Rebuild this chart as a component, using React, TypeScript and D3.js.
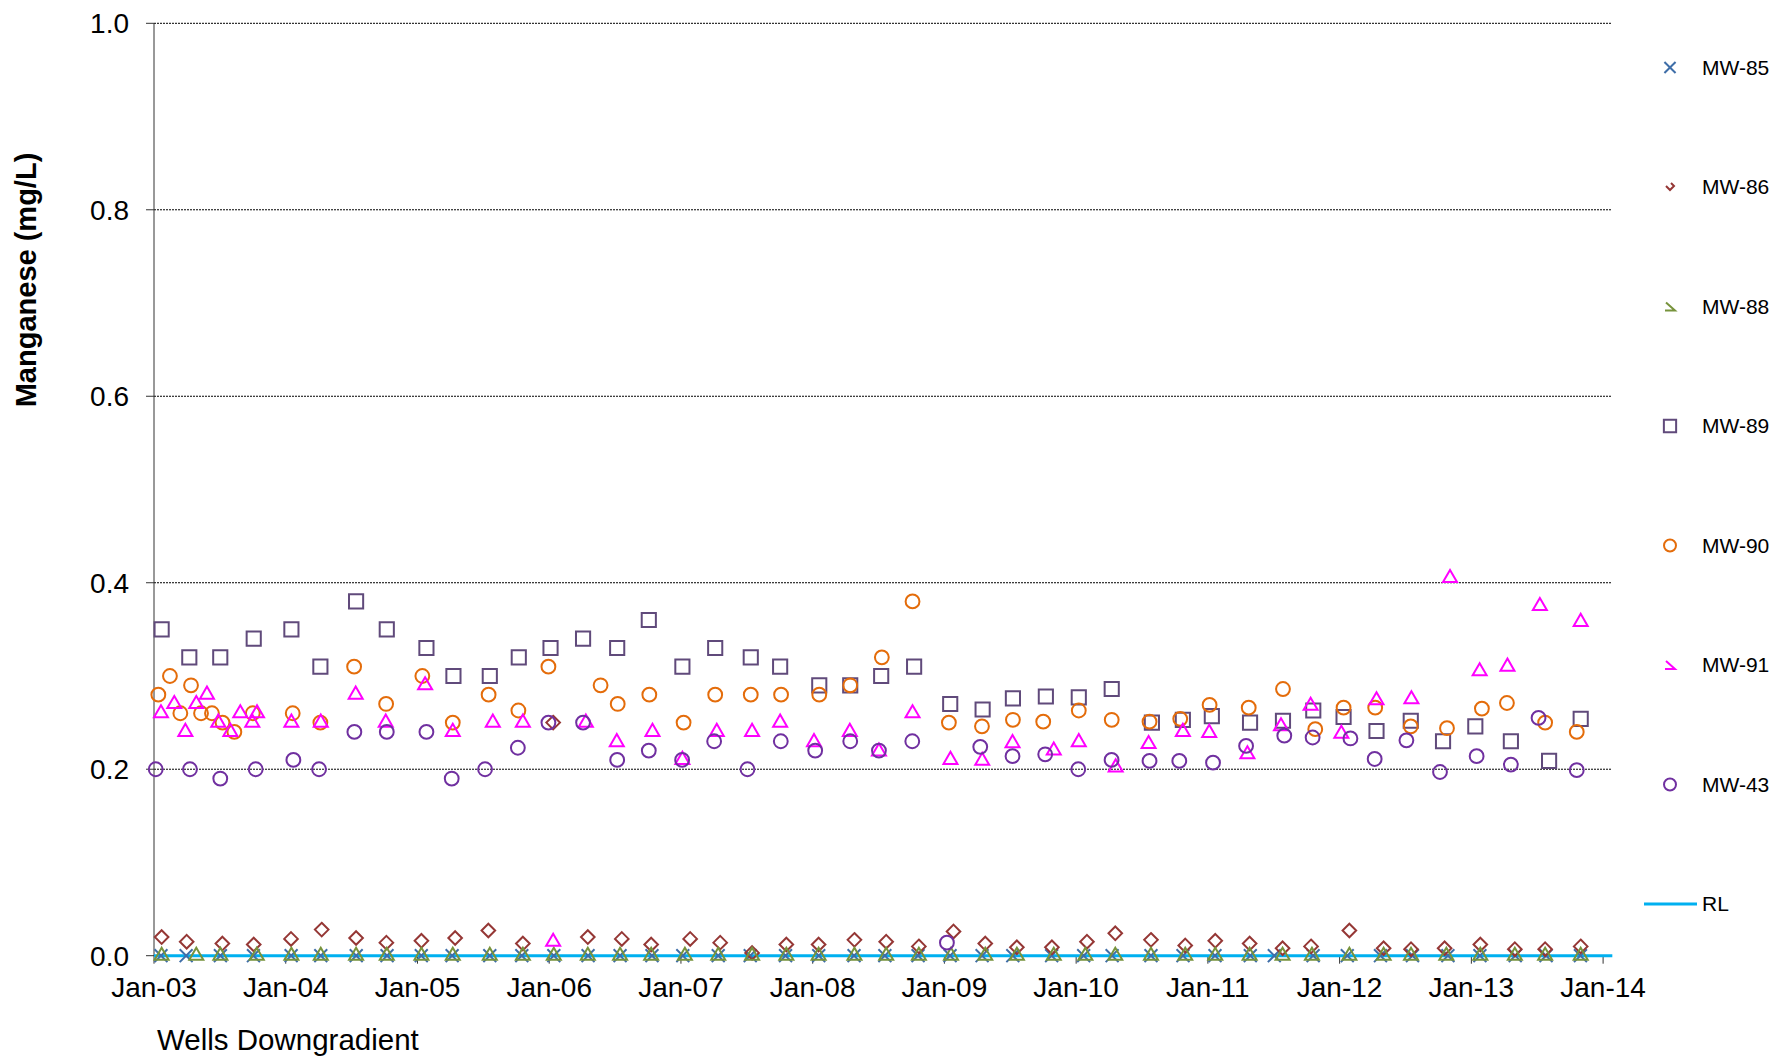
import React from 'react'
import * as d3 from 'd3'

// sample dates are decimal years
const mw85Dates = [2003.053, 2003.244, 2003.504, 2003.755, 2004.041, 2004.266, 2004.535, 2004.769, 2005.029, 2005.263, 2005.549, 2005.792, 2006.035, 2006.295, 2006.538, 2006.78, 2007.014, 2007.283, 2007.526, 2007.794, 2008.046, 2008.314, 2008.548, 2008.8, 2009.043, 2009.286, 2009.519, 2009.814, 2010.057, 2010.273, 2010.568, 2010.811, 2011.054, 2011.322, 2011.504, 2011.799, 2012.058, 2012.31, 2012.553, 2012.822, 2013.065, 2013.333, 2013.567, 2013.828]
const mw85Values = [0, 0, 0, 0, 0, 0, 0, 0, 0, 0, 0, 0, 0, 0, 0, 0, 0, 0, 0, 0, 0, 0, 0, 0, 0, 0, 0, 0, 0, 0, 0, 0, 0, 0, 0, 0, 0, 0, 0, 0, 0, 0, 0, 0]

const mw86Dates = [2003.058, 2003.248, 2003.519, 2003.757, 2004.04, 2004.273, 2004.534, 2004.764, 2005.03, 2005.286, 2005.538, 2005.8, 2006.03, 2006.293, 2006.551, 2006.774, 2007.07, 2007.298, 2007.54, 2007.8, 2008.045, 2008.317, 2008.558, 2008.806, 2009.069, 2009.31, 2009.55, 2009.816, 2010.082, 2010.297, 2010.568, 2010.828, 2011.056, 2011.317, 2011.567, 2011.783, 2012.074, 2012.334, 2012.542, 2012.797, 2013.068, 2013.33, 2013.56, 2013.83]
const mw86Values = [0.02, 0.015, 0.013, 0.012, 0.018, 0.028, 0.019, 0.014, 0.016, 0.019, 0.027, 0.013, 0.25, 0.02, 0.018, 0.012, 0.018, 0.014, 0.003, 0.012, 0.012, 0.017, 0.015, 0.01, 0.026, 0.013, 0.009, 0.009, 0.015, 0.024, 0.017, 0.011, 0.016, 0.013, 0.008, 0.01, 0.027, 0.008, 0.007, 0.008, 0.012, 0.007, 0.007, 0.01]

const mw88Dates = [2003.058, 2003.321, 2003.504, 2003.78, 2004.043, 2004.266, 2004.534, 2004.767, 2005.03, 2005.268, 2005.549, 2005.8, 2006.035, 2006.293, 2006.538, 2006.774, 2007.03, 2007.283, 2007.54, 2007.8, 2008.045, 2008.317, 2008.558, 2008.806, 2009.05, 2009.31, 2009.55, 2009.83, 2010.07, 2010.297, 2010.568, 2010.828, 2011.056, 2011.317, 2011.567, 2011.79, 2012.074, 2012.334, 2012.542, 2012.81, 2013.068, 2013.33, 2013.56, 2013.83]
const mw88Values = [0, 0, 0, 0, 0, 0, 0, 0, 0, 0, 0, 0, 0, 0, 0, 0, 0, 0, 0, 0, 0, 0, 0, 0, 0, 0, 0, 0, 0, 0, 0, 0, 0, 0, 0, 0, 0, 0, 0, 0, 0, 0, 0, 0]

const mw89Dates = [2003.058, 2003.268, 2003.503, 2003.757, 2004.043, 2004.263, 2004.534, 2004.767, 2005.068, 2005.273, 2005.549, 2005.769, 2006.01, 2006.257, 2006.516, 2006.756, 2007.011, 2007.26, 2007.53, 2007.753, 2008.05, 2008.285, 2008.52, 2008.77, 2009.044, 2009.29, 2009.52, 2009.77, 2010.02, 2010.27, 2010.575, 2010.81, 2011.03, 2011.32, 2011.57, 2011.8, 2012.03, 2012.28, 2012.54, 2012.785, 2013.03, 2013.3, 2013.59, 2013.83]
const mw89Values = [0.35, 0.32, 0.32, 0.34, 0.35, 0.31, 0.38, 0.35, 0.33, 0.3, 0.3, 0.32, 0.33, 0.34, 0.33, 0.36, 0.31, 0.33, 0.32, 0.31, 0.29, 0.29, 0.3, 0.31, 0.27, 0.264, 0.276, 0.278, 0.277, 0.286, 0.25, 0.253, 0.257, 0.25, 0.252, 0.263, 0.256, 0.241, 0.252, 0.23, 0.246, 0.23, 0.209, 0.254]

const mw90Dates = [2003.033, 2003.121, 2003.2, 2003.281, 2003.357, 2003.44, 2003.52, 2003.61, 2003.75, 2004.053, 2004.263, 2004.519, 2004.762, 2005.037, 2005.268, 2005.54, 2005.766, 2005.994, 2006.39, 2006.52, 2006.76, 2007.02, 2007.26, 2007.53, 2007.76, 2008.05, 2008.285, 2008.525, 2008.758, 2009.034, 2009.285, 2009.52, 2009.75, 2010.02, 2010.27, 2010.557, 2010.79, 2011.013, 2011.31, 2011.57, 2011.815, 2012.03, 2012.27, 2012.54, 2012.815, 2013.08, 2013.27, 2013.56, 2013.8]
const mw90Values = [0.28, 0.3, 0.26, 0.29, 0.26, 0.26, 0.25, 0.24, 0.26, 0.26, 0.25, 0.31, 0.27, 0.3, 0.25, 0.28, 0.263, 0.31, 0.29, 0.27, 0.28, 0.25, 0.28, 0.28, 0.28, 0.28, 0.29, 0.32, 0.38, 0.25, 0.246, 0.253, 0.251, 0.263, 0.253, 0.251, 0.254, 0.269, 0.266, 0.286, 0.243, 0.266, 0.266, 0.246, 0.244, 0.265, 0.271, 0.25, 0.24]

const mw91Dates = [2003.053, 2003.154, 2003.238, 2003.321, 2003.402, 2003.488, 2003.58, 2003.655, 2003.746, 2003.782, 2004.043, 2004.266, 2004.531, 2004.759, 2005.058, 2005.268, 2005.572, 2005.8, 2006.03, 2006.278, 2006.513, 2006.784, 2007.011, 2007.272, 2007.54, 2007.753, 2008.01, 2008.282, 2008.503, 2008.758, 2009.046, 2009.287, 2009.517, 2009.83, 2010.02, 2010.3, 2010.55, 2010.81, 2011.01, 2011.3, 2011.555, 2011.78, 2012.013, 2012.28, 2012.545, 2012.838, 2013.063, 2013.274, 2013.52, 2013.83]
const mw91Values = [0.26, 0.27, 0.24, 0.27, 0.28, 0.25, 0.24, 0.26, 0.25, 0.26, 0.25, 0.25, 0.28, 0.25, 0.29, 0.24, 0.25, 0.25, 0.015, 0.25, 0.229, 0.24, 0.21, 0.24, 0.24, 0.25, 0.229, 0.24, 0.219, 0.26, 0.21, 0.209, 0.228, 0.22, 0.229, 0.202, 0.227, 0.24, 0.239, 0.216, 0.246, 0.268, 0.238, 0.274, 0.275, 0.405, 0.305, 0.31, 0.375, 0.358]

const mw43Dates = [2003.013, 2003.273, 2003.503, 2003.772, 2004.058, 2004.253, 2004.521, 2004.767, 2005.068, 2005.26, 2005.513, 2005.762, 2005.994, 2006.257, 2006.516, 2006.756, 2007.009, 2007.252, 2007.505, 2007.758, 2008.019, 2008.285, 2008.503, 2008.756, 2009.019, 2009.272, 2009.517, 2009.765, 2010.016, 2010.269, 2010.557, 2010.783, 2011.039, 2011.29, 2011.58, 2011.795, 2012.082, 2012.266, 2012.507, 2012.762, 2013.04, 2013.3, 2013.51, 2013.8]
const mw43Values = [0.2, 0.2, 0.19, 0.2, 0.21, 0.2, 0.24, 0.24, 0.24, 0.19, 0.2, 0.223, 0.25, 0.25, 0.21, 0.22, 0.21, 0.23, 0.2, 0.23, 0.22, 0.23, 0.22, 0.23, 0.014, 0.224, 0.214, 0.216, 0.2, 0.21, 0.209, 0.209, 0.207, 0.225, 0.236, 0.234, 0.233, 0.211, 0.231, 0.197, 0.214, 0.205, 0.255, 0.199]

const rlDates = [2003.0, 2014.07]
const rlValues = [0, 0]

const yTicks = [0, 0.2, 0.4, 0.6, 0.8, 1.0]
const xTickYears = [2003, 2004, 2005, 2006, 2007, 2008, 2009, 2010, 2011, 2012, 2013, 2014]
const xTickLabels = ['Jan-03', 'Jan-04', 'Jan-05', 'Jan-06', 'Jan-07', 'Jan-08', 'Jan-09', 'Jan-10', 'Jan-11', 'Jan-12', 'Jan-13', 'Jan-14']

const seriesNames = ['MW-85', 'MW-86', 'MW-88', 'MW-89', 'MW-90', 'MW-91', 'MW-43']

interface Series {
  name: string;
  dates: number[];
  values: number[];
  symbol: d3.SymbolType;
  size: number;
  color: string;
}

const series: Series[] = [
  { name: seriesNames[0], dates: mw85Dates, values: mw85Values, symbol: d3.symbolX, size: 110, color: '#3f6ea8' },
  { name: seriesNames[1], dates: mw86Dates, values: mw86Values, symbol: d3.symbolDiamond2, size: 118, color: '#953735' },
  { name: seriesNames[2], dates: mw88Dates, values: mw88Values, symbol: d3.symbolTriangle2, size: 140, color: '#77933c' },
  { name: seriesNames[3], dates: mw89Dates, values: mw89Values, symbol: d3.symbolSquare2, size: 255, color: '#604a7b' },
  { name: seriesNames[4], dates: mw90Dates, values: mw90Values, symbol: d3.symbolCircle, size: 150, color: '#e46c0a' },
  { name: seriesNames[5], dates: mw91Dates, values: mw91Values, symbol: d3.symbolTriangle2, size: 140, color: '#ff00ff' },
  { name: seriesNames[6], dates: mw43Dates, values: mw43Values, symbol: d3.symbolCircle, size: 150, color: '#7030a0' },
]

const font = '"Liberation Sans", Arial, sans-serif'

// legend glyphs look clipped in the original, so draw them as partial shapes
const legendGlyphs: Record<string, string> = {
  'MW-86': 'M-4,-1 L0,3 L4,-1 L1,-4',
  'MW-88': 'M-4,-4 L5,4 L-5,4',
  'MW-91': 'M-4,-4 L5,4 L-5,4',
}

export default function App() {
  const width = 1790
  const height = 1060
  const margin = { top: 23.3, right: 179, bottom: 104.3, left: 154 }
  const innerRight = width - margin.right
  const innerBottom = height - margin.bottom

  const xScale = d3.scaleLinear().domain([2003, 2014.06]).range([margin.left, innerRight])
  const yScale = d3.scaleLinear().domain([0, 1]).range([innerBottom, margin.top])

  const rlLine = d3.line<number>()
    .x((d, i) => xScale(rlDates[i]))
    .y(d => yScale(d))

  const legendX = 1670
  const legendY0 = 67.5
  const legendStep = 119.5

  return (
    <svg width={width} height={height} style={{ position: 'absolute', left: 0, top: 0, display: 'block', background: '#fff' }}>
      {/* gridlines */}
      {yTicks.filter(t => t > 0).map(t => (
        <line key={t} x1={margin.left} x2={innerRight} y1={yScale(t)} y2={yScale(t)}
          stroke="#000" strokeWidth={1} strokeDasharray="2,1" />
      ))}

      {/* y axis */}
      <line x1={margin.left} x2={margin.left} y1={margin.top} y2={innerBottom} stroke="#333" strokeWidth={1} />
      {yTicks.map(t => (
        <g key={t}>
          <line x1={margin.left - 8} x2={margin.left} y1={yScale(t)} y2={yScale(t)} stroke="#333" />
          <text x={129} y={yScale(t)} dy="0.35em" textAnchor="end" fontFamily={font} fontSize={28} fill="#000">
            {d3.format('.1f')(t)}
          </text>
        </g>
      ))}

      {/* x axis */}
      <line x1={margin.left} x2={innerRight} y1={innerBottom} y2={innerBottom} stroke="#333" />
      {xTickYears.map((yr, i) => (
        <g key={yr}>
          <line x1={xScale(yr)} x2={xScale(yr)} y1={innerBottom} y2={innerBottom + 8} stroke="#333" />
          <text x={xScale(yr)} y={997} textAnchor="middle" fontFamily={font} fontSize={28} fill="#000">
            {xTickLabels[i]}
          </text>
        </g>
      ))}

      {/* RL */}
      <path d={rlLine(rlValues) as string} fill="none" stroke="#00b0f0" strokeWidth={3} />

      {/* markers */}
      {series.map(s => {
        const path = d3.symbol().type(s.symbol).size(s.size)() as string
        return (
          <g key={s.name}>
            {s.values.map((v, i) => (
              <path key={i} d={path} transform={`translate(${xScale(s.dates[i])},${yScale(v)})`}
                fill="none" stroke={s.color} strokeWidth={2} />
            ))}
          </g>
        )
      })}

      {/* axis titles */}
      <text transform={`translate(36,${280}) rotate(-90)`} textAnchor="middle" fontFamily={font}
        fontSize={29} fontWeight="bold" fill="#000">Manganese (mg/L)</text>
      <text x={157} y={1050} fontFamily={font} fontSize={29.5} fill="#000">Wells Downgradient</text>

      {/* legend */}
      {series.map((s, i) => {
        const y = legendY0 + i * legendStep
        const glyph = legendGlyphs[s.name] ?? (d3.symbol().type(s.symbol).size(s.size * 0.75)() as string)
        return (
          <g key={s.name}>
            <path d={glyph} transform={`translate(${legendX},${y})`} fill="none" stroke={s.color} strokeWidth={2} />
            <text x={1702} y={y} dy="0.35em" fontFamily={font} fontSize={21} fill="#000">{s.name}</text>
          </g>
        )
      })}
      <line x1={1644} x2={1697} y1={legendY0 + 7 * legendStep} y2={legendY0 + 7 * legendStep} stroke="#00b0f0" strokeWidth={3} />
      <text x={1702} y={legendY0 + 7 * legendStep} dy="0.35em" fontFamily={font} fontSize={21} fill="#000">RL</text>
    </svg>
  )
}
